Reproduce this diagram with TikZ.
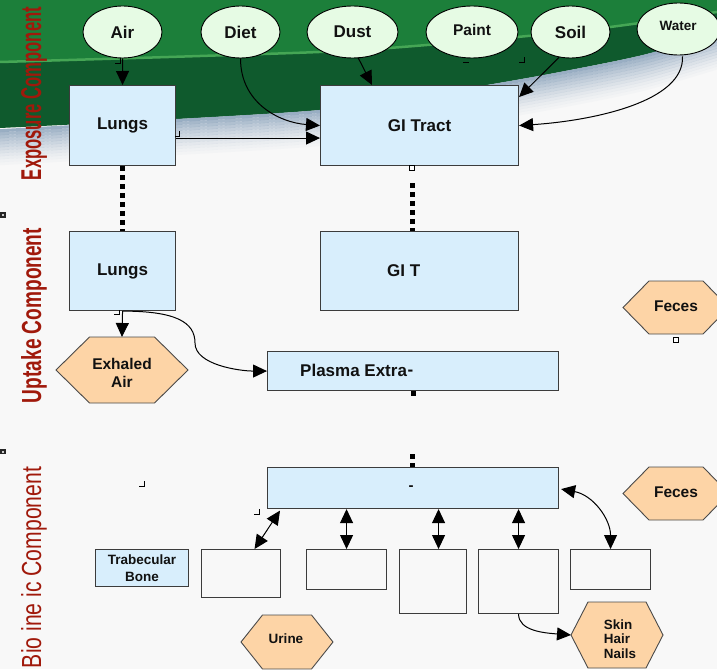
\documentclass[tikz,border=0pt]{standalone}
\usepackage{fontspec}
\setmainfont{Liberation Sans}
\usetikzlibrary{arrows.meta,shapes.geometric,calc}
\definecolor{bg}{HTML}{F8F8F8}
\definecolor{gtop}{HTML}{1C7F3A}
\definecolor{gdark}{HTML}{0F5A2D}
\definecolor{gline}{HTML}{45A655}
\definecolor{shadowc}{HTML}{8FA6BE}
\definecolor{ellfill}{HTML}{E6FBE4}
\definecolor{boxfill}{HTML}{D8EEFC}
\definecolor{boxline}{HTML}{3C3C3C}
\definecolor{hexfill}{HTML}{FDD4A6}
\definecolor{hexline}{HTML}{4A4A4A}
\definecolor{labred}{HTML}{A0190B}
\definecolor{txt}{HTML}{111111}
\newcommand\myhex[6]{%
  \path[hexshape] ({#2-#4},#3) -- ({#2-#5},{#3-#6}) -- ({#2+#5},{#3-#6}) -- ({#2+#4},#3) -- ({#2+#5},{#3+#6}) -- ({#2-#5},{#3+#6}) -- cycle;
  \coordinate (#1-n) at (#2,{#3-#6});
  \coordinate (#1-w) at ({#2-#4},#3);
}
\newcommand\shadowline[2]{%
  \draw[draw=shadowc, draw opacity=#2, line width=3.1pt] plot[smooth] coordinates {(-5,{129.5+#1}) (160,{120+#1}) (320,{110+#1}) (420,{96+#1}) (493,{84+#1}) (560,{72+#1}) (643,{55+#1}) (722,{32+#1})};
}
\begin{document}
\begin{tikzpicture}[x=1pt,y=-1pt,
  arr/.style={-{Triangle[length=14pt,width=13pt]}, line width=1pt, draw=black},
  dblarr/.style={{Triangle[length=14pt,width=13pt]}-{Triangle[length=14pt,width=13pt]}, line width=1pt, draw=black},
  dotline/.style={line width=5pt, dash pattern=on 4.5pt off 4.5pt, draw=black},
  ell/.style={ellipse, draw=black, line width=0.9pt, fill=ellfill, minimum height=52pt, inner sep=0pt, text=txt, font=\fontsize{17}{20}\selectfont\bfseries},
  bbox/.style={draw=boxline, line width=1.1pt, fill=boxfill, inner sep=0pt, anchor=north west, text=txt, font=\fontsize{17}{20}\selectfont\bfseries},
  wbox/.style={draw=boxline, line width=1.1pt, fill=bg, inner sep=0pt, anchor=north west},
  hexshape/.style={draw=hexline, line width=0.9pt, fill=hexfill},
  lbl/.style={inner sep=0pt, text=txt, font=\fontsize{17}{20}\selectfont\bfseries},
  hextxt/.style={inner sep=0pt, text=txt, align=center, font=\fontsize{15.5}{17.5}\selectfont\bfseries},
  smalltxt/.style={inner sep=0pt, text=txt, align=center, font=\fontsize{13.5}{16.5}\selectfont\bfseries},
  sidelbl/.style={rotate=90, anchor=base, inner sep=0pt, text=labred},
  straymark/.style={line width=0.9pt, draw=black}
]
\useasboundingbox (0,0) rectangle (717,669);
\clip (0,0) rectangle (717,669);
% background and green swoosh
\fill[bg] (0,0) rectangle (717,669);
\fill[gdark] (0,-60) -- plot[smooth] coordinates {(0,128) (160,120) (320,110) (420,96) (493,84) (560,72) (643,55) (717,34)} -- (717,-60) -- cycle;
\fill[gtop] (0,-60) -- plot[smooth] coordinates {(0,62) (200,56) (360,50) (517,37) (610,27) (717,12)} -- (717,-60) -- cycle;
\draw[gline, line width=2.5pt] plot[smooth] coordinates {(0,62) (200,56) (360,50) (517,37) (610,27) (717,12)};
\shadowline{1.5}{0.9}
\shadowline{4.5}{0.78}
\shadowline{7.5}{0.68}
\shadowline{10.5}{0.58}
\shadowline{13.5}{0.49}
\shadowline{16.5}{0.41}
\shadowline{19.5}{0.33}
\shadowline{22.5}{0.26}
\shadowline{25.5}{0.19}
\shadowline{28.5}{0.13}
\shadowline{31.5}{0.08}
\shadowline{34.5}{0.04}

% side labels
\node[sidelbl] (lexp) at (41,93.5) {\resizebox{173pt}{20pt}{\bfseries Exposure Component}};
\node[sidelbl] (lupt) at (41,315.5) {\resizebox{175pt}{20pt}{\bfseries Uptake Component}};
\node[sidelbl] (lbio) at (41,567.5) {\resizebox{201pt}{20pt}{Bio ine ic Component}};

% source ellipses
\node[ell, minimum width=79pt] (air) at (122.5,32) {Air};
\node[ell, minimum width=79pt] (diet) at (240.5,32) {Diet};
\node[ell, minimum width=91pt] (dust) at (352.5,32) {Dust};
\node[ell, minimum width=92pt] (paint) at (472,32) {};
\node[lbl, font=\fontsize{15.5}{18}\selectfont\bfseries] (painttxt) at (472,29.5) {Paint};
\node[ell, minimum width=79pt] (soil) at (570.5,32) {Soil};
\node[ell, minimum width=83pt] (water) at (678.5,29) {};
\node[lbl, font=\fontsize{13.5}{16}\selectfont\bfseries] (watertxt) at (678,25.5) {Water};

% blue boxes
\node[bbox, minimum width=106pt, minimum height=80pt] (lungsA) at (69,85) {Lungs};
\node[bbox, minimum width=198pt, minimum height=80pt] (git) at (320,85) {GI Tract};
\node[bbox, minimum width=106pt, minimum height=79pt] (lungsB) at (69,231) {Lungs};
\node[bbox, minimum width=198pt, minimum height=79pt] (gitB) at (320,231) {};
\node[lbl, anchor=west] (gitBtxt) at (387,270.5) {GI T};
\node[bbox, minimum width=291pt, minimum height=39pt] (plasma) at (267,351) {};
\node[lbl, anchor=west] (plasmatxt) at (300,370.5) {Plasma Extra};
\node[lbl] (plasmadash) at (410.5,372.5) {-};
\node[bbox, minimum width=291pt, minimum height=41pt] (bot) at (267,467) {};
\node[lbl, font=\fontsize{15}{18}\selectfont\bfseries] (botdash) at (411,488) {-};
\node[bbox, minimum width=93pt, minimum height=37pt, align=center, font=\fontsize{13.5}{16.5}\selectfont\bfseries] (trab) at (95,549) {Trabecular\\Bone};

% white compartment boxes
\node[wbox, minimum width=79pt, minimum height=48pt] (box1) at (201,549) {};
\node[wbox, minimum width=80pt, minimum height=40pt] (box2) at (306,549) {};
\node[wbox, minimum width=67pt, minimum height=64pt] (box3) at (399,549) {};
\node[wbox, minimum width=80pt, minimum height=64pt] (box4) at (478,549) {};
\node[wbox, minimum width=80pt, minimum height=40pt] (box5) at (570,549) {};

% hexagons
\myhex{exh}{122}{370}{66}{32.5}{33}
\node[hextxt] (exhaled) at (122,373) {Exhaled\\Air};
\myhex{fecA}{676}{307.5}{53}{27}{26.5}
\node[hextxt] (fecesA) at (676,306) {Feces};
\myhex{fecB}{676}{493.5}{53}{27}{26.5}
\node[hextxt] (fecesB) at (676,492) {Feces};
\myhex{uri}{287}{642}{46}{24.5}{27}
\node[smalltxt] (urine) at (286,639) {Urine};
\myhex{skn}{617}{635}{46}{29}{33}
\node[smalltxt, align=left, font=\fontsize{13.4}{14.5}\selectfont\bfseries] (skin) at (620,639) {Skin\\Hair\\Nails};

% exposure connectors
\draw[arr] (air.south) -- (lungsA.north);
\draw[arr] (diet.south) .. controls +(0,45) and +(-40,-3) .. (git.west);
\draw[arr] ([yshift=-12.5pt]lungsA.east) -- ([yshift=-12.5pt]lungsA.east -| git.west);
\draw[arr] ($(dust.south)+(5.5,-1)$) -- ($(git.north west)+(52,0)$);
\draw[arr] ($(soil.south)+(-11.5,-1)$) -- ($(git.north east)+(0,12)$);
\draw[arr] ($(water.south)+(4,1)$) .. controls +(2,45) and +(75,-5) .. (git.east);

% dotted links
\draw[dotline] (lungsA.south) -- (lungsB.north);
\coordinate (gd) at (412,183);
\draw[dotline] (gd) -- (gd |- gitB.north);
\draw[dotline] (plasma.south) -- +(0,5);
\coordinate (pd) at (412,454);
\draw[dotline] (pd) -- (pd |- bot.north);

% uptake connectors
\draw[arr] (lungsB.south) -- (exh-n);
\coordinate (bend) at (195,343);
\draw[arr] (lungsB.south) .. controls +(53,0) and +(0,-21) .. (bend) .. controls +(0,22) and +(-27,0) .. (plasma.west);

% biokinetic connectors
\draw[dblarr] ($(bot.south west)+(13,1.5)$) -- ($(box1.north)+(13.5,0)$);
\draw[dblarr] (box2.north |- bot.south) -- (box2.north);
\draw[dblarr] ($(box3.north |- bot.south)+(5.5,0)$) -- ($(box3.north)+(5.5,0)$);
\draw[dblarr] (box4.north |- bot.south) -- (box4.north);
\draw[dblarr] ($(bot.east)+(2,1)$) .. controls +(32,6) and +(0,-30) .. (box5.north);
\draw[arr] (box4.south) .. controls +(0,17) and +(-26,-2) .. (skn-w);

% small stray marks
\draw[straymark] (115,63) -- (120,63) -- (120,58);
\draw[straymark] (175,136) -- (179.5,136) -- (179.5,131);
\draw[straymark] (463,62) -- (469,62);
\draw[straymark] (519,62) -- (524,62) -- (524,57);
\draw[straymark] (114,314) -- (119,314) -- (119,310);
\draw[straymark] (139,486) -- (144,486) -- (144,481);
\draw[straymark] (254,514) -- (259,514) -- (259,509);
\draw[line width=0.8pt, fill=white] (409.5,165.5) rectangle (414.5,170.5);
\draw[line width=0.8pt, fill=white] (673.5,337.5) rectangle (678.5,342.5);
\fill[black!85] (0,212) rectangle (6,217.5);
\fill[white!80!black] (2,214) rectangle (4,216);
\fill[black!85] (0,448.5) rectangle (6,454);
\fill[white!80!black] (2,450.5) rectangle (4,452.5);
\end{tikzpicture}
\end{document}
